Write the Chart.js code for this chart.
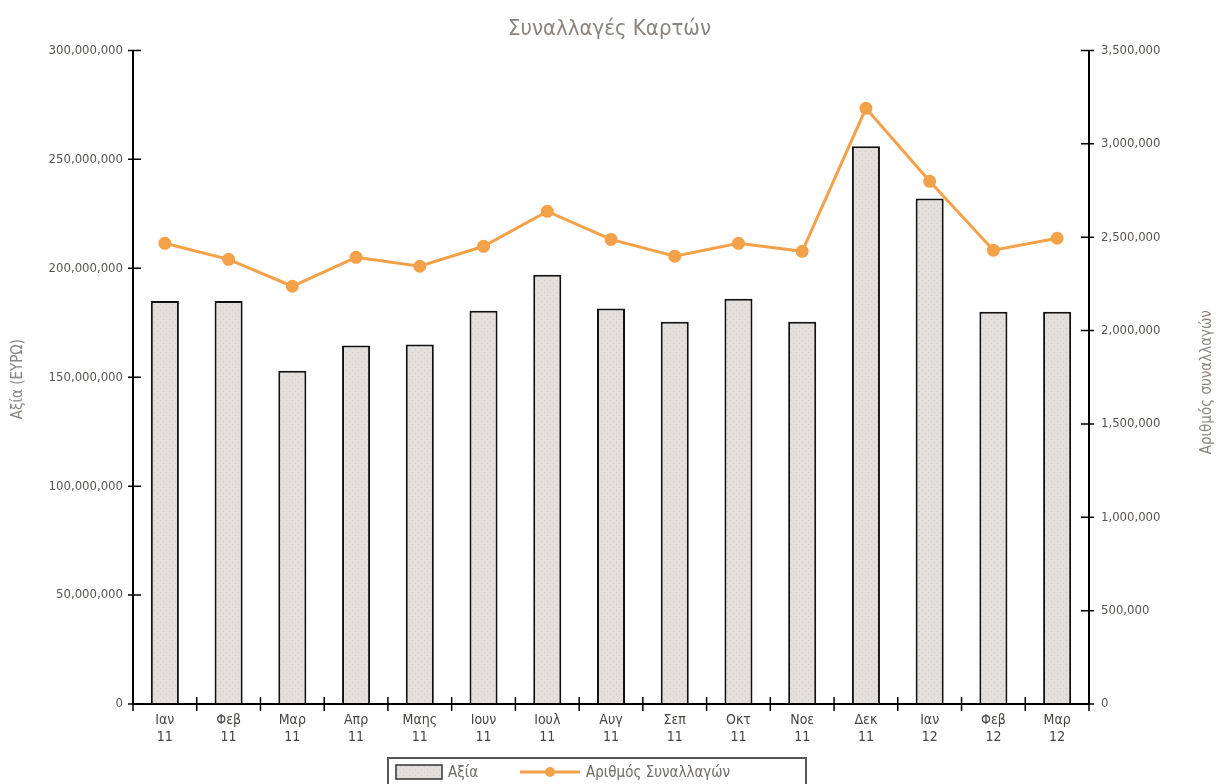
<!DOCTYPE html>
<html><head><meta charset="utf-8">
<script src="https://cdn.jsdelivr.net/npm/chart.js@4.4.1/dist/chart.umd.min.js"></script>
<style>html,body{margin:0;padding:0;background:#fff;}canvas{display:block;}</style>
</head><body>
<canvas id="c" width="1219" height="784"></canvas>
<script>
const months = ["Ιαν","Φεβ","Μαρ","Απρ","Μαης","Ιουν","Ιουλ","Αυγ","Σεπ","Οκτ","Νοε","Δεκ","Ιαν","Φεβ","Μαρ"];
const years = ["11","11","11","11","11","11","11","11","11","11","11","11","12","12","12"];
const valueEUR = [185000000,185000000,153000000,164500000,165000000,180500000,197000000,181500000,175500000,186000000,175500000,256000000,232000000,180000000,180000000];
const transactions = [2467000,2381000,2237000,2392000,2344000,2451000,2638000,2488000,2398000,2467000,2424000,3190000,2799000,2430000,2494000];
const leftTicks = [0,50000000,100000000,150000000,200000000,250000000,300000000];
const rightTicks = [0,500000,1000000,1500000,2000000,2500000,3000000,3500000];

const labels = months.map((m,i)=>[m, years[i]]);
const fmt = v => v.toLocaleString('en-US');
const FONT = "'DejaVu Sans Condensed', 'Liberation Sans Narrow', sans-serif";

// dotted pattern for bars
const pc = document.createElement('canvas'); pc.width = 6; pc.height = 6;
const px = pc.getContext('2d');
px.fillStyle = '#e2dfdc'; px.fillRect(0,0,6,6);
px.fillStyle = '#c9c9d2'; px.fillRect(1,1,1,1); px.fillRect(4,4,1,1);
const pattern = px.createPattern(pc,'repeat');

const ORANGE = '#f4a24a';

const axisPlugin = {
  id:'axisTicks',
  afterDraw(chart){
    const ctx = chart.ctx;
    ctx.save();
    ctx.strokeStyle = '#000'; ctx.lineWidth = 2;
    const x = chart.scales.x, yl = chart.scales.y, yr = chart.scales.y1;
    ctx.beginPath();
    ctx.moveTo(yl.right, yl.top); ctx.lineTo(yl.right, yl.bottom);
    ctx.moveTo(yr.left, yr.top); ctx.lineTo(yr.left, yr.bottom);
    ctx.moveTo(x.left, x.top); ctx.lineTo(x.right, x.top);
    ctx.stroke();
    ctx.lineWidth = 1.5;
    ctx.beginPath();
    leftTicks.forEach(v=>{ const p = yl.getPixelForValue(v); ctx.moveTo(yl.right-5,p); ctx.lineTo(yl.right+8,p); });
    rightTicks.forEach(v=>{ const p = yr.getPixelForValue(v); ctx.moveTo(yr.left-8,p); ctx.lineTo(yr.left+5,p); });
    for(let i=0;i<=months.length;i++){
      const p = x.getPixelForValue(i-0.5);
      ctx.moveTo(p, x.top-7); ctx.lineTo(p, x.top+7);
    }
    ctx.stroke();
    ctx.fillStyle = '#8a837e';
    ctx.font = "15px " + FONT;
    ctx.textAlign = 'center'; ctx.textBaseline = 'middle';
    const cy = (yl.top+yl.bottom)/2;
    ctx.save(); ctx.translate(18, cy+2); ctx.rotate(-Math.PI/2); ctx.fillText('Αξία (ΕΥΡΩ)',0,0); ctx.restore();
    ctx.save(); ctx.translate(1207, cy+5); ctx.rotate(-Math.PI/2); ctx.fillText('Αριθμός συναλλαγών',0,0); ctx.restore();
    // legend
    const barDs = chart.data.datasets.find(d=>d.type==='bar');
    const lineDs = chart.data.datasets.find(d=>d.type==='line');
    const lx = 388, ly = 758, lw = 418, lh = 28;
    ctx.strokeStyle = '#555'; ctx.lineWidth = 2;
    ctx.strokeRect(lx, ly, lw, lh);
    ctx.fillStyle = pattern; ctx.fillRect(lx+8, ly+7, 46, 14);
    ctx.strokeStyle = '#333'; ctx.lineWidth = 1.5; ctx.strokeRect(lx+8, ly+7, 46, 14);
    ctx.fillStyle = '#6f6a66'; ctx.font = "15px " + FONT; ctx.textAlign='left';
    ctx.fillText(barDs.label, lx+60, ly+15);
    ctx.strokeStyle = ORANGE; ctx.lineWidth = 3;
    ctx.beginPath(); ctx.moveTo(lx+132, ly+14); ctx.lineTo(lx+192, ly+14); ctx.stroke();
    ctx.fillStyle = ORANGE; ctx.beginPath(); ctx.arc(lx+162, ly+14, 5, 0, Math.PI*2); ctx.fill();
    ctx.fillStyle = '#6f6a66';
    ctx.fillText(lineDs.label, lx+198, ly+15);
    ctx.restore();
  }
};

new Chart(document.getElementById('c'), {
  data: {
    labels,
    datasets: [
      { type:'line', label:'Αριθμός Συναλλαγών', data: transactions, yAxisID:'y1',
        borderColor: ORANGE, backgroundColor: ORANGE, borderWidth: 3,
        pointRadius: 5, pointBackgroundColor: ORANGE, pointBorderColor: ORANGE, tension: 0, order: 0 },
      { type:'bar', label:'Αξία', data: valueEUR, yAxisID:'y',
        backgroundColor: pattern, borderColor:'#111', borderWidth: 2,
        barPercentage: 0.44, categoryPercentage: 1.0, order: 1 }
    ]
  },
  options: {
    responsive:false, animation:false,
    layout:{ padding:{ top:0, bottom:38, left:0, right:0 } },
    plugins:{
      legend:{ display:false },
      tooltip:{ enabled:false },
      title:{ display:true, text:'Συναλλαγές Καρτών', color:'#8a837e',
        font:{ family: FONT, size:22, weight:'normal' }, padding:{ top:16, bottom:8 } }
    },
    scales:{
      x:{
        grid:{ display:false, drawTicks:false }, border:{ display:false },
        ticks:{ color:'#4a4542', font:{ family: FONT, size:14 }, padding:8, maxRotation:0, autoSkip:false },
        afterFit(s){ s.height = 42; }
      },
      y:{
        position:'left', min:0, max:300000000,
        afterBuildTicks(s){ s.ticks = leftTicks.map(v=>({value:v})); },
        grid:{ display:false, drawTicks:false }, border:{ display:false },
        ticks:{ color:'#5a5552', font:{ family: FONT, size:13 }, padding:10, callback: v=>fmt(v) },
        afterFit(s){ s.width = 133; }
      },
      y1:{
        position:'right', min:0, max:3500000,
        afterBuildTicks(s){ s.ticks = rightTicks.map(v=>({value:v})); },
        grid:{ display:false, drawTicks:false }, border:{ display:false },
        ticks:{ color:'#5a5552', font:{ family: FONT, size:13 }, padding:12, callback: v=>fmt(v) },
        afterFit(s){ s.width = 130; }
      }
    }
  },
  plugins:[axisPlugin]
});
</script>
</body></html>
